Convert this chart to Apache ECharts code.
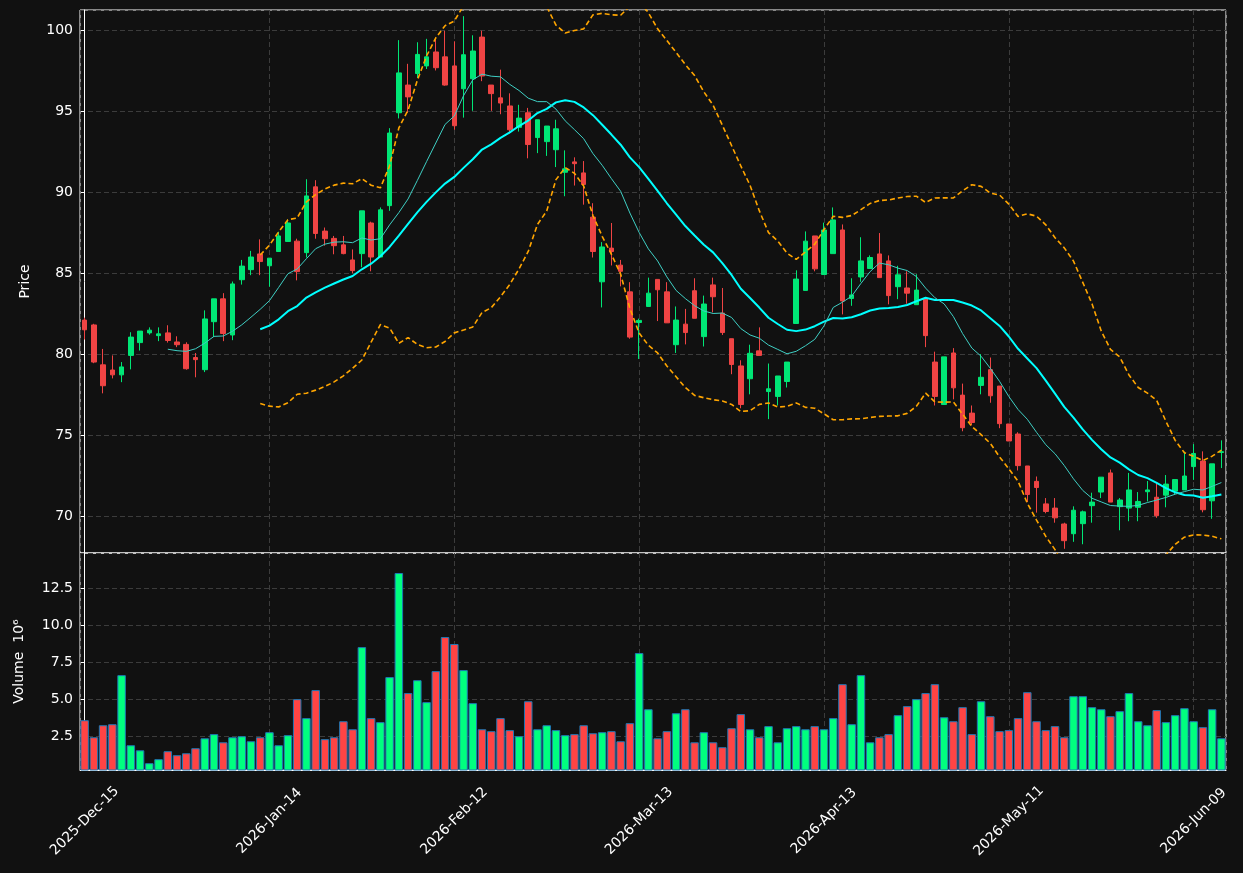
<!DOCTYPE html>
<html>
<head>
<meta charset="utf-8">
<script src="https://cdn.jsdelivr.net/npm/echarts@6/dist/echarts.min.js"></script>
<style>
html, body { margin: 0; padding: 0; background: #111111; }
#chart { width: 1243px; height: 873px; }
</style>
</head>
<body>
<div id="chart"></div>
<script>
// trading calendar: weekdays from the first session, minus exchange holidays
var firstDay = '2025-12-15';
var dayCount = 124;
var holidays = ['2025-12-25', '2026-01-01', '2026-01-19', '2026-02-16', '2026-04-03', '2026-05-25'];
var monthNames = ['Jan', 'Feb', 'Mar', 'Apr', 'May', 'Jun', 'Jul', 'Aug', 'Sep', 'Oct', 'Nov', 'Dec'];

var opens = [82.11, 81.81, 79.35, 79.03, 78.73, 79.93, 80.72, 81.32, 81.15, 81.32,
  80.76, 80.61, 79.80, 79.05, 82.01, 83.42, 81.19, 84.60, 85.22, 86.19,
  85.46, 86.34, 86.96, 86.98, 86.27, 90.33, 87.60, 87.15, 86.75, 85.82,
  86.21, 88.10, 86.00, 89.17, 94.90, 96.61, 97.32, 97.79, 98.65, 98.35,
  97.79, 96.38, 97.00, 99.57, 96.61, 95.82, 95.32, 94.00, 94.90, 93.37,
  93.12, 92.62, 91.23, 91.87, 91.19, 88.46, 84.47, 86.55, 85.50, 83.85,
  81.96, 82.95, 84.62, 83.85, 80.59, 81.86, 83.92, 81.09, 84.28, 82.54,
  80.96, 79.28, 78.49, 80.21, 77.70, 77.40, 78.32, 81.90, 83.94, 87.30,
  84.92, 86.21, 87.67, 83.44, 84.77, 85.29, 86.19, 85.76, 84.17, 84.09,
  83.06, 83.42, 79.52, 76.90, 80.08, 77.48, 76.37, 78.08, 79.05, 78.04,
  75.70, 75.08, 73.11, 72.16, 70.77, 70.51, 69.53, 68.93, 69.55, 70.66,
  71.50, 72.68, 70.60, 70.51, 70.56, 71.52, 71.18, 71.31, 71.56, 71.63,
  73.07, 73.41, 70.96, 73.94];
var highs = [82.26, 81.88, 80.33, 79.93, 79.52, 81.36, 81.43, 81.66, 81.66, 81.79,
  81.11, 80.74, 80.08, 82.71, 83.42, 83.77, 84.49, 85.82, 86.38, 87.09,
  85.93, 87.56, 88.31, 87.13, 90.80, 90.74, 87.82, 87.30, 87.30, 86.47,
  88.85, 88.18, 89.06, 93.95, 99.38, 97.92, 99.25, 99.46, 99.42, 99.96,
  99.31, 100.86, 99.68, 99.96, 96.61, 97.56, 96.10, 95.39, 95.20, 94.47,
  94.08, 94.47, 92.58, 92.15, 91.92, 89.32, 86.92, 88.10, 85.82, 84.45,
  82.20, 84.73, 84.62, 84.45, 82.95, 82.80, 84.69, 83.62, 84.73, 84.09,
  80.96, 79.63, 80.59, 81.66, 79.43, 78.66, 79.52, 85.18, 87.58, 87.30,
  88.12, 89.06, 88.01, 84.69, 87.22, 86.10, 87.48, 86.10, 85.46, 85.12,
  84.94, 83.42, 80.16, 79.84, 80.38, 78.19, 76.84, 80.01, 79.80, 78.04,
  75.70, 75.19, 73.11, 72.46, 71.13, 71.13, 69.61, 70.62, 70.36, 71.46,
  72.42, 72.89, 71.13, 72.68, 71.50, 72.18, 72.08, 72.55, 72.27, 73.99,
  74.46, 74.01, 73.24, 74.69];
var lows = [80.91, 79.45, 77.59, 78.51, 78.28, 79.07, 80.23, 81.21, 80.81, 80.72,
  80.44, 79.05, 78.58, 78.90, 81.08, 80.81, 80.87, 84.30, 84.88, 84.88,
  84.17, 86.34, 86.96, 84.56, 85.97, 87.13, 86.70, 86.17, 86.17, 85.01,
  85.37, 85.12, 86.00, 88.85, 94.55, 94.90, 97.04, 97.60, 97.51, 96.57,
  93.85, 94.60, 95.02, 96.85, 95.02, 94.81, 93.63, 93.74, 92.09, 92.41,
  92.24, 91.55, 89.75, 90.41, 89.23, 85.97, 82.89, 85.48, 84.19, 80.96,
  79.71, 82.95, 82.05, 81.94, 80.08, 80.61, 82.22, 80.48, 82.59, 81.19,
  78.77, 76.67, 77.53, 79.93, 76.00, 76.84, 77.95, 81.90, 83.94, 85.12,
  84.92, 86.21, 82.46, 82.99, 84.47, 85.29, 84.73, 83.08, 83.40, 83.12,
  83.06, 80.44, 76.84, 76.90, 77.22, 75.25, 75.62, 77.53, 77.01, 75.44,
  74.65, 72.83, 70.88, 70.23, 70.19, 69.61, 68.00, 68.43, 68.28, 69.61,
  71.13, 70.88, 69.14, 69.70, 69.70, 70.92, 69.91, 70.56, 71.35, 71.63,
  72.25, 70.25, 69.85, 72.98];
var closes = [81.51, 79.52, 78.06, 78.73, 79.22, 81.06, 81.43, 81.49, 81.26, 80.85,
  80.59, 79.11, 79.67, 82.18, 83.42, 81.28, 84.34, 85.44, 86.00, 85.72,
  85.93, 87.30, 88.10, 85.10, 89.77, 87.45, 87.13, 86.70, 86.21, 85.16,
  88.85, 86.00, 88.91, 93.65, 97.36, 95.88, 98.50, 98.35, 97.68, 96.61,
  94.10, 98.48, 98.71, 97.17, 96.08, 95.50, 93.85, 94.57, 92.94, 94.47,
  94.08, 93.91, 91.44, 91.76, 90.48, 86.34, 86.62, 86.34, 85.12, 81.06,
  82.09, 83.77, 83.98, 81.94, 82.11, 81.34, 82.22, 83.10, 83.55, 81.34,
  79.37, 76.90, 80.06, 79.93, 77.87, 78.66, 79.52, 84.64, 86.98, 85.27,
  87.67, 88.29, 83.29, 83.66, 85.76, 85.97, 84.73, 83.62, 84.90, 83.77,
  83.96, 81.15, 77.40, 79.84, 77.93, 75.47, 75.79, 78.58, 77.44, 75.72,
  74.65, 73.13, 71.35, 71.78, 70.30, 69.91, 68.50, 70.38, 70.28, 70.88,
  72.42, 70.88, 71.01, 71.63, 70.92, 71.63, 70.04, 71.99, 72.27, 72.49,
  73.88, 70.41, 73.24, 73.99];
// volume in millions of shares
var volumes = [3.58, 2.43, 3.24, 3.31, 6.62, 1.89, 1.55, 0.68, 0.95, 1.49,
  1.22, 1.35, 1.69, 2.36, 2.64, 2.09, 2.43, 2.50, 2.16, 2.43,
  2.77, 1.89, 2.57, 5.00, 3.72, 5.61, 2.30, 2.43, 3.51, 2.97,
  8.51, 3.72, 3.45, 6.49, 13.51, 5.41, 6.28, 4.80, 6.89, 9.19,
  8.72, 6.96, 4.73, 2.97, 2.84, 3.72, 2.91, 2.50, 4.86, 2.97,
  3.24, 2.91, 2.57, 2.64, 3.24, 2.70, 2.77, 2.84, 2.16, 3.38,
  8.11, 4.32, 2.36, 2.84, 4.05, 4.32, 2.09, 2.77, 2.09, 1.76,
  3.04, 3.99, 2.97, 2.43, 3.18, 2.09, 3.04, 3.18, 2.97, 3.18,
  2.97, 3.72, 6.01, 3.31, 6.62, 2.09, 2.43, 2.64, 3.92, 4.53,
  5.00, 5.41, 6.01, 3.78, 3.51, 4.46, 2.64, 4.86, 3.85, 2.84,
  2.91, 3.72, 5.47, 3.51, 2.91, 3.18, 2.43, 5.20, 5.20, 4.46,
  4.32, 3.85, 4.19, 5.41, 3.51, 3.24, 4.26, 3.45, 3.92, 4.39,
  3.51, 3.11, 4.32, 2.36];

var upColor = '#00e676', downColor = '#ef4444';
var volUp = '#00ff7f', volDown = '#ff4444';

function tradingDays(start, n) {
  var out = [];
  var d = new Date(start + 'T00:00:00Z');
  while (out.length < n) {
    var iso = d.toISOString().slice(0, 10);
    var dow = d.getUTCDay();
    if (dow !== 0 && dow !== 6 && holidays.indexOf(iso) < 0) {
      out.push(d.getUTCFullYear() + '-' + monthNames[d.getUTCMonth()] + '-' + iso.slice(8, 10));
    }
    d.setUTCDate(d.getUTCDate() + 1);
  }
  return out;
}

function movingAvg(vals, n) {
  var res = [];
  for (var i = 0; i < vals.length; i++) {
    if (i < n - 1) { res.push('-'); continue; }
    var s = 0;
    for (var j = i - n + 1; j <= i; j++) s += vals[j];
    res.push(+(s / n).toFixed(3));
  }
  return res;
}

function band(vals, n, k, sign) {
  var res = [];
  for (var i = 0; i < vals.length; i++) {
    if (i < n - 1) { res.push('-'); continue; }
    var s = 0, ss = 0;
    for (var j = i - n + 1; j <= i; j++) s += vals[j];
    var m = s / n;
    for (var j2 = i - n + 1; j2 <= i; j2++) ss += (vals[j2] - m) * (vals[j2] - m);
    res.push(+(m + sign * k * Math.sqrt(ss / n)).toFixed(3));
  }
  return res;
}

var dates = tradingDays(firstDay, dayCount);
var ohlc = opens.map(function (o, i) { return [o, closes[i], lows[i], highs[i]]; });
var volData = volumes.map(function (v, i) {
  return { value: v, itemStyle: { color: closes[i] >= opens[i] ? volUp : volDown } };
});

var txt = '#ffffff';
var font = 'DejaVu Sans';
var fs = 14;
var gridLine = { show: true, lineStyle: { color: '#3c3c3c', type: [5, 3], width: 1 } };

var chart = echarts.init(document.getElementById('chart'));

var option = {
  backgroundColor: '#111111',
  animation: false,
  textStyle: { fontFamily: font },
  grid: [
    { left: 80, right: 17, top: 10, height: 543, show: true, borderColor: '#ffffff', borderWidth: 1 },
    { left: 80, right: 17, top: 553, height: 217, show: true, borderColor: '#ffffff', borderWidth: 1 }
  ],
  xAxis: [
    { type: 'category', gridIndex: 0, data: dates, boundaryGap: true,
      axisLine: { show: false }, axisTick: { show: false }, axisLabel: { show: false }, splitLine: { show: false } },
    { type: 'category', gridIndex: 1, data: dates, boundaryGap: true,
      axisLine: { lineStyle: { color: '#ffffff' } },
      axisTick: { interval: 19, alignWithLabel: true, length: 4, lineStyle: { color: '#ffffff' } },
      axisLabel: { interval: 19, rotate: 45, color: txt, fontSize: fs, fontFamily: font,
        align: 'center', verticalAlign: 'middle', margin: 51 },
      splitLine: { show: false } },
    // index scale used only for the vertical grid lines
    { type: 'value', gridIndex: 0, min: -0.5, max: dayCount - 0.5, minInterval: 20, maxInterval: 20,
      axisLine: { show: false }, axisTick: { show: false }, axisLabel: { show: false }, splitLine: gridLine },
    { type: 'value', gridIndex: 1, min: -0.5, max: dayCount - 0.5, minInterval: 20, maxInterval: 20,
      axisLine: { show: false }, axisTick: { show: false }, axisLabel: { show: false }, splitLine: gridLine }
  ],
  yAxis: [
    { type: 'value', gridIndex: 0, min: 67.74, max: 101.24, splitNumber: 7, minInterval: 5, maxInterval: 5,
      name: 'Price', nameLocation: 'middle', nameGap: 48, nameRotate: 90,
      nameTextStyle: { color: txt, fontSize: fs, fontFamily: font },
      axisLine: { show: true, lineStyle: { color: '#ffffff' } },
      axisTick: { show: true, length: 4, lineStyle: { color: '#ffffff' } },
      axisLabel: { color: txt, fontSize: fs, fontFamily: font, showMinLabel: false, showMaxLabel: false, margin: 7 },
      splitLine: gridLine },
    { type: 'value', gridIndex: 1, min: 0.22, max: 14.86, splitNumber: 6, minInterval: 2.5, maxInterval: 2.5,
      name: 'Volume  10\u2076', nameLocation: 'middle', nameGap: 54, nameRotate: 90,
      nameTextStyle: { color: txt, fontSize: fs, fontFamily: font },
      axisLine: { show: true, lineStyle: { color: '#ffffff' } },
      axisTick: { show: true, length: 4, lineStyle: { color: '#ffffff' } },
      axisLabel: { color: txt, fontSize: fs, fontFamily: font, showMinLabel: false, showMaxLabel: false, margin: 7,
        formatter: function (v) { return v.toFixed(1); } },
      splitLine: gridLine }
  ],
  series: [
    { name: 'OHLC', type: 'candlestick', xAxisIndex: 0, yAxisIndex: 0, data: ohlc, barWidth: '55%',
      itemStyle: { color: upColor, color0: downColor, borderColor: upColor, borderColor0: downColor, borderWidth: 1 } },
    { name: 'MA20', type: 'line', xAxisIndex: 0, yAxisIndex: 0, data: movingAvg(closes, 20),
      symbol: 'none', lineStyle: { color: '#00ffff', width: 2 } },
    { name: 'MA10', type: 'line', xAxisIndex: 0, yAxisIndex: 0, data: movingAvg(closes, 10),
      symbol: 'none', lineStyle: { color: '#3fcfc4', width: 1 } },
    { name: 'Upper', type: 'line', xAxisIndex: 0, yAxisIndex: 0, data: band(closes, 20, 2, 1),
      symbol: 'none', lineStyle: { color: '#ffa500', width: 1.6, type: [5, 3] } },
    { name: 'Lower', type: 'line', xAxisIndex: 0, yAxisIndex: 0, data: band(closes, 20, 2, -1),
      symbol: 'none', lineStyle: { color: '#ffa500', width: 1.6, type: [5, 3] } },
    { name: 'Volume', type: 'bar', xAxisIndex: 1, yAxisIndex: 1, data: volData, barWidth: '92%',
      itemStyle: { borderColor: '#1f77b4', borderWidth: 1 } }
  ]
};

chart.setOption(option);
</script>
</body>
</html>
